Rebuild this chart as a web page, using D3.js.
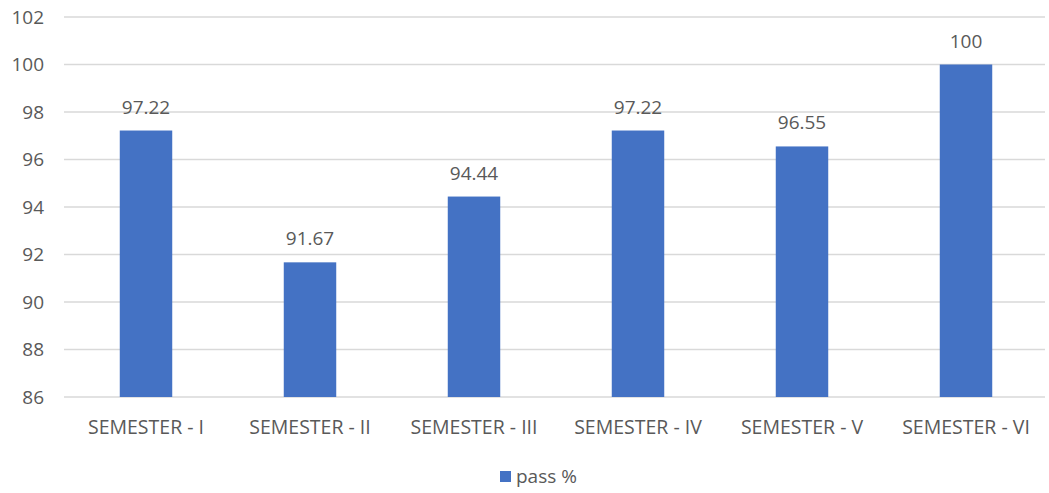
<!DOCTYPE html>
<html>
<head>
<meta charset="utf-8">
<script src="https://cdn.jsdelivr.net/npm/d3@7"></script>
<style>
  body { margin: 0; background: #fff; }
  text { font-family: "Open Sans", "Liberation Sans", sans-serif; fill: #595959; }
</style>
</head>
<body>
<div id="chart"></div>
<script>
// data
const categories = ["SEMESTER - I", "SEMESTER - II", "SEMESTER - III", "SEMESTER - IV", "SEMESTER - V", "SEMESTER - VI"];
const passPct = [97.22, 91.67, 94.44, 97.22, 96.55, 100];
const yTicks = [86, 88, 90, 92, 94, 96, 98, 100, 102];
const seriesName = "pass %";

const width = 1049, height = 493;
const margin = { top: 17, right: 1, bottom: 96, left: 64 };

const svg = d3.select("#chart").append("svg")
    .attr("width", width)
    .attr("height", height);

const x = d3.scaleBand()
    .domain(categories)
    .range([margin.left, width - margin.right])
    .paddingInner(0.68)
    .paddingOuter(0.34);

const y = d3.scaleLinear()
    .domain([86, 102])
    .range([height - margin.bottom, margin.top]);

// gridlines
svg.append("g")
    .selectAll("line")
    .data(yTicks)
    .join("line")
    .attr("x1", margin.left)
    .attr("x2", width - 4)
    .attr("y1", d => y(d))
    .attr("y2", d => y(d))
    .attr("stroke", "#d9d9d9")
    .attr("stroke-width", 1.3);

// y tick labels
svg.append("g")
    .selectAll("text")
    .data(yTicks)
    .join("text")
    .attr("x", 44)
    .attr("y", d => y(d))
    .attr("dy", "0.35em")
    .attr("text-anchor", "end")
    .style("font-size", "19px")
    .text(d => d);

// bars
svg.append("g")
    .selectAll("rect")
    .data(passPct)
    .join("rect")
    .attr("x", (d, i) => x(categories[i]))
    .attr("width", x.bandwidth())
    .attr("y", d => y(d))
    .attr("height", d => y(86) - y(d))
    .attr("fill", "#4472c4");

// value labels
svg.append("g")
    .selectAll("text")
    .data(passPct)
    .join("text")
    .attr("x", (d, i) => x(categories[i]) + x.bandwidth() / 2)
    .attr("y", d => y(d) - 17)
    .attr("text-anchor", "middle")
    .style("font-size", "19px")
    .text(d => d);

// category labels
svg.append("g")
    .selectAll("text")
    .data(categories)
    .join("text")
    .attr("x", d => x(d) + x.bandwidth() / 2)
    .attr("y", 434)
    .attr("text-anchor", "middle")
    .style("font-size", "19.5px")
    .text(d => d);

// legend
const legend = svg.append("g").attr("transform", "translate(500,471)");
legend.append("rect")
    .attr("width", 11)
    .attr("height", 11)
    .attr("fill", "#4472c4");
legend.append("text")
    .attr("x", 16)
    .attr("y", 5.5)
    .attr("dy", "0.35em")
    .style("font-size", "19px")
    .text(seriesName);
</script>
</body>
</html>
